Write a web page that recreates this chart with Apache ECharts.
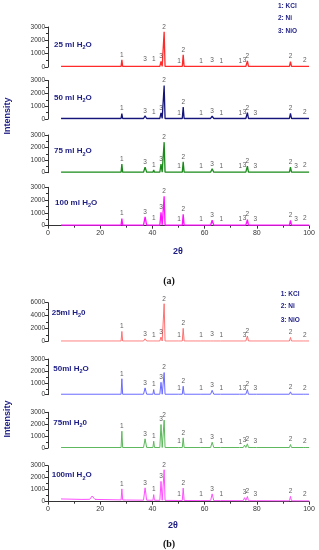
<!DOCTYPE html>
<html><head><meta charset="utf-8">
<script src="https://cdn.jsdelivr.net/npm/echarts@6/dist/echarts.min.js"></script>
<style>html,body{margin:0;padding:0;background:#fff}#c{width:319px;height:550px}</style>
</head><body><div id="c"></div>
<script>
// ---- data ----
const peakPos   = [28.3, 37.2, 40.5, 43.3, 44.5, 50.2, 51.8, 58.6, 62.9, 66.4, 73.7, 75.3, 76.4, 79.4, 92.9, 95.0, 98.4];
const peakPhase = ['1', '3', '1', '3', '2', '1', '2', '1', '3', '1', '1', '3', '2', '3', '2', '3', '2'];
const peakWidth = [0.3, 0.6, 0.3, 0.45, 0.35, 0.3, 0.35, 0.3, 0.6, 0.3, 0.3, 0.5, 0.4, 0.5, 0.4, 0.5, 0.4];

// panel (a) intensities above background
const a25  = [500, 150, 150, 375, 2600, 50, 870, 30, 130, 30, 30, 100, 420, 0, 370, 0, 120];
const a50  = [390, 200, 100, 440, 2560, 40, 900, 30, 180, 30, 30, 100, 450, 60, 390, 0, 100];
const a75  = [640, 400, 170, 640, 2390, 60, 830, 40, 270, 40, 40, 120, 480, 80, 400, 40, 120];
const a100 = [520, 650, 150, 1010, 2260, 60, 860, 50, 390, 50, 50, 150, 440, 100, 370, 60, 150];
// panel (b)
const b25  = [1490, 360, 200, 620, 5800, 150, 1970, 80, 220, 80, 0, 150, 780, 0, 560, 0, 200];
const b50  = [1300, 530, 390, 1000, 1820, 100, 670, 60, 330, 60, 60, 120, 390, 80, 200, 0, 100];
const b75  = [1370, 730, 530, 1930, 2300, 150, 810, 100, 450, 100, 60, 200, 310, 100, 250, 0, 100];
const b100 = [920, 1030, 470, 1580, 2550, 120, 1030, 100, 560, 100, 0, 250, 350, 150, 370, 0, 150];

// peak labels shown on each pattern ('' = none)
const labA25  = ['1','3','1','3','2','1','2','1','3','1','1','3','2','','2','','2'];
const labA50  = ['1','3','1','3','2','1','2','1','3','1','1','3','2','3','2','','2'];
const labA75  = ['1','3','1','3','2','1','2','1','3','1','1','3','2','3','2','3','2'];
const labA100 = ['1','3','1','3','2','1','2','1','3','1','1','3','2','3','2','3','2'];
const labB25  = ['1','3','1','3','2','1','2','1','3','1','','3','2','','2','','2'];
const labB50  = ['1','3','1','3','2','1','2','1','3','1','1','3','2','3','2','','2'];
const labB75  = ['1','3','1','3','2','1','2','1','3','1','1','3','2','3','2','','2'];
const labB100 = ['1','3','1','3','2','1','2','1','3','1','','3','2','3','2','','2'];

// backgrounds [2theta, intensity]
const bgFlat = [[5, 40], [100, 40]];
const bgB100 = [[5, 230], [13, 190], [16, 200], [16.9, 470], [18, 190], [30, 140], [50, 100], [100, 70]];

// names
const namesA = [['25 ml H','2','O'], ['50 ml H','2','O'], ['75 ml H','2','O'], ['100 ml H','2','O']];
const namesB = [['25ml H','2','0'], ['50ml H','2','O'], ['75ml H','2','0'], ['100ml H','2','O']];
const legendTexts = ['1: KCl', '2: Ni', '3: NiO'];
const xTicks = [0, 100, 20];

// ---- layout / style ----
const NAVY = '#1c1c84';
const FONT = 'Liberation Sans, Arial, sans-serif';
const panels = [
  {h: a25,  lab: labA25,  bg: bgFlat, color: '#ff2a2a', lw: 1.3, top: 27,    height: 40,   ymax: 3000, yint: 1000, name: namesA[0], nx: 54,   ny: 44.3},
  {h: a50,  lab: labA50,  bg: bgFlat, color: '#14147a', lw: 1.3, top: 80.5,  height: 38.5, ymax: 3000, yint: 1000, name: namesA[1], nx: 54,   ny: 97.7},
  {h: a75,  lab: labA75,  bg: bgFlat, color: '#1a8a1a', lw: 1.3, top: 135,   height: 37.7, ymax: 3000, yint: 1000, name: namesA[2], nx: 54,   ny: 151},
  {h: a100, lab: labA100, bg: bgFlat, color: '#ff10ff', lw: 1.3, top: 187.3, height: 38.4, ymax: 3000, yint: 1000, name: namesA[3], nx: 55,   ny: 202.3, xaxis: true},
  {h: b25,  lab: labB25,  bg: bgFlat, color: '#ff7070', lw: 1,   top: 302.7, height: 38.6, ymax: 6000, yint: 2000, name: namesB[0], nx: 51.7, ny: 312.7},
  {h: b50,  lab: labB50,  bg: bgFlat, color: '#6a6aff', lw: 1,   top: 359,   height: 35.7, ymax: 3000, yint: 1000, name: namesB[1], nx: 53.3, ny: 368.3},
  {h: b75,  lab: labB75,  bg: bgFlat, color: '#5cb85c', lw: 1,   top: 412.3, height: 35.7, ymax: 3000, yint: 1000, name: namesB[2], nx: 53.3, ny: 422.7},
  {h: b100, lab: labB100, bg: bgB100, color: '#ff50ff', lw: 1,   top: 465.7, height: 36,   ymax: 3000, yint: 1000, name: namesB[3], nx: 51.7, ny: 475, xaxis: true}
];

function bgAt(bg, x) {
  if (x <= bg[0][0]) return bg[0][1];
  for (let i = 1; i < bg.length; i++) {
    if (x <= bg[i][0]) {
      const [x0, y0] = bg[i - 1], [x1, y1] = bg[i];
      return y0 + (y1 - y0) * (x - x0) / (x1 - x0);
    }
  }
  return bg[bg.length - 1][1];
}
function buildLine(bg, h) {
  const pts = bg.map(p => [p[0], p[1]]);
  peakPos.forEach((x, i) => {
    if (!h[i]) return;
    const w = peakWidth[i];
    pts.push([x - w, bgAt(bg, x - w)], [x, bgAt(bg, x) + h[i]], [x + w, bgAt(bg, x + w)]);
  });
  pts.sort((a, b) => a[0] - b[0]);
  return pts;
}

const grid = [], xAxis = [], yAxis = [], series = [], title = [], graphic = [];
panels.forEach((p, i) => {
  grid.push({left: 48, right: 10, top: p.top, height: p.height});
  xAxis.push({
    gridIndex: i, type: 'value', min: xTicks[0], max: xTicks[1], interval: xTicks[2],
    show: !!p.xaxis,
    axisLine: {lineStyle: {color: '#333', width: 1}},
    axisTick: {length: 3, lineStyle: {color: '#333'}},
    minorTick: {show: true, splitNumber: 2, length: 2, lineStyle: {color: '#333'}},
    axisLabel: {fontSize: 7, color: '#333', margin: 4, fontFamily: FONT, formatter: v => String(v)},
    splitLine: {show: false}
  });
  yAxis.push({
    gridIndex: i, type: 'value', min: 0, max: p.ymax, interval: p.yint,
    axisLine: {show: true, lineStyle: {color: '#333', width: 1}},
    axisTick: {show: true, length: 3, lineStyle: {color: '#333'}},
    minorTick: {show: true, splitNumber: 2, length: 2, lineStyle: {color: '#333'}},
    axisLabel: {fontSize: 6.5, color: '#333', margin: 3, fontFamily: FONT, formatter: v => String(v)},
    splitLine: {show: false}
  });
  series.push({
    type: 'line', xAxisIndex: i, yAxisIndex: i, showSymbol: false, silent: true,
    data: buildLine(p.bg, p.h), lineStyle: {color: p.color, width: p.lw}, z: 2
  });
  const ld = [];
  peakPos.forEach((x, k) => {
    if (!p.lab[k]) return;
    ld.push({value: [x, bgAt(p.bg, x) + p.h[k]], label: {formatter: p.lab[k]}});
  });
  series.push({
    type: 'scatter', xAxisIndex: i, yAxisIndex: i, symbolSize: 0, silent: true, data: ld,
    label: {show: true, position: 'top', distance: 1.5, fontSize: 6.5, color: '#333', fontFamily: FONT}, z: 3
  });
  title.push({
    text: '{a|' + p.name[0] + '}{s|' + p.name[1] + '}{a|' + p.name[2] + '}',
    left: p.nx, top: p.ny - 6, padding: 0,
    textStyle: {rich: {
      a: {fontSize: 8, fontWeight: 'bold', color: NAVY, fontFamily: FONT, lineHeight: 12},
      s: {fontSize: 5.5, fontWeight: 'bold', color: NAVY, fontFamily: FONT, lineHeight: 12, verticalAlign: 'bottom'}
    }}
  });
});

// legends
[[278, [6, 18.7, 31.7]], [280.7, [294, 306.7, 320]]].forEach(([lx, ys]) => {
  legendTexts.forEach((t, k) => graphic.push({type: 'text', x: lx, y: ys[k],
    style: {text: t, fill: NAVY, font: 'bold 6.5px ' + FONT, textVerticalAlign: 'middle'}}));
});
// axis titles
[[116], [419]].forEach(([cy]) => graphic.push({type: 'text', x: 8, y: cy, rotation: Math.PI / 2,
  style: {text: 'Intensity', fill: NAVY, font: 'bold 9px ' + FONT, textAlign: 'center', textVerticalAlign: 'middle'}}));
[[178, 252], [173, 526]].forEach(([cx, cy]) => graphic.push({type: 'text', x: cx, y: cy,
  style: {text: '2θ', fill: NAVY, font: 'bold 9px ' + FONT, textAlign: 'center', textVerticalAlign: 'middle'}}));
[['(a)', 281.7], ['(b)', 544]].forEach(([t, cy]) => graphic.push({type: 'text', x: 169, y: cy,
  style: {text: t, fill: '#111', font: 'bold 10px Liberation Serif, serif', textAlign: 'center', textVerticalAlign: 'middle'}}));

const chart = echarts.init(document.getElementById('c'), null, {renderer: 'canvas'});
chart.setOption({animation: false, title, grid, xAxis, yAxis, series, graphic});
</script>
</body></html>
